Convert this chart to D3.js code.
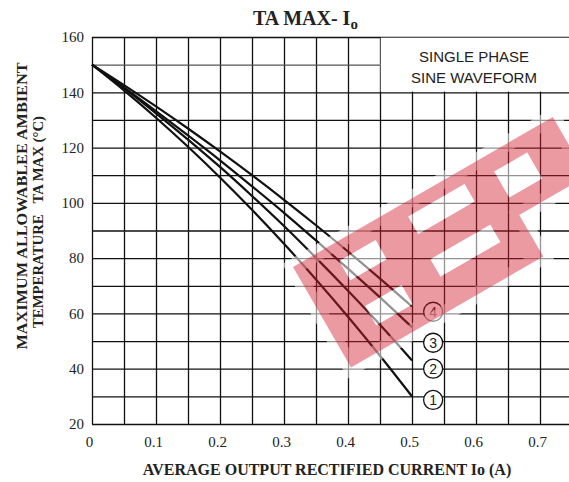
<!DOCTYPE html>
<html>
<head>
<meta charset="utf-8">
<script src="https://cdn.jsdelivr.net/npm/d3@7"></script>
<style>
body { margin: 0; background: #fff; }
svg { display: block; }
.grid line { stroke: #111; stroke-width: 1.3; }
.grid path { display: none; }
.ticks path, .ticks line { display: none; }
.ticks text { font-family: "Liberation Serif", "Times New Roman", serif; font-size: 15px; fill: #222; }
.curve { fill: none; stroke: #111; stroke-width: 2.2; }
.serif-bold { font-family: "Liberation Serif", "Times New Roman", serif; font-weight: bold; fill: #222; }
</style>
</head>
<body>
<script>
var width = 569, height = 482;

// average output current (A) where the curves were read
var currents = [0, 0.05, 0.1, 0.15, 0.2, 0.25, 0.3, 0.35, 0.4, 0.45, 0.5];
// max ambient temperature (C) per curve
var curve1 = [150, 140.7, 130.8, 120.3, 109.2, 97.5, 85.2, 72.3, 58.8, 44.7, 30];
var curve2 = [150, 141.5, 132.4, 122.9, 113, 102.5, 91.6, 80.1, 68.2, 55.9, 43];
var curve3 = [150, 141.8, 133.2, 124.4, 115.4, 106, 96.4, 86.4, 76.2, 65.8, 55];
var curve4 = [150, 142.6, 134.9, 126.9, 118.6, 110, 101.1, 91.9, 82.4, 72.6, 62.5];
var curveNames = ["1", "2", "3", "4"];
// where the numbered circles sit (A, C)
var labelCurrent = 0.533;
var labelTemps = [28.7, 40, 49.4, 60.6];

var xTicks = [0, 0.1, 0.2, 0.3, 0.4, 0.5, 0.6, 0.7];
var xTickLabels = ["0", "0.1", "0.2", "0.3", "0.4", "0.5", "0.6", "0.7"];
var yTicks = [20, 40, 60, 80, 100, 120, 140, 160];
var gridX = d3.range(0, 0.751, 0.05);
var gridY = d3.range(20, 161, 10);

var x = d3.scaleLinear().domain([0, 0.75]).range([92, 572]);
var y = d3.scaleLinear().domain([20, 160]).range([424, 37]);

var svg = d3.select("body").append("svg")
    .attr("width", width)
    .attr("height", height);

// grid
svg.append("g")
    .attr("class", "grid")
    .attr("transform", "translate(0," + y(20) + ")")
    .call(d3.axisBottom(x).tickValues(gridX).tickSize(-(y(20) - y(160))).tickFormat(""));
svg.append("g")
    .attr("class", "grid")
    .attr("transform", "translate(" + x(0) + ",0)")
    .call(d3.axisLeft(y).tickValues(gridY).tickSize(-(x(0.75) - x(0))).tickFormat(""))
    .selectAll("line")
    .filter(d => d === 150)
    .style("stroke", "#555");

// blank box for the waveform note
svg.append("rect")
    .attr("x", x(0.45) + 0.7)
    .attr("y", y(160) + 0.7)
    .attr("width", width - x(0.45))
    .attr("height", y(140) - y(160) - 1.4)
    .attr("fill", "#fff");
svg.append("g")
    .selectAll("text")
    .data(["SINGLE PHASE", "SINE WAVEFORM"])
    .enter()
    .append("text")
    .attr("x", 474)
    .attr("y", (d, i) => 62 + i * 21)
    .attr("text-anchor", "middle")
    .style("font-family", "'Liberation Sans', Arial, sans-serif")
    .style("font-size", "15px")
    .style("fill", "#222")
    .text(d => d);

// curves
var series = [curve1, curve2, curve3, curve4];
var line = d3.line()
    .curve(d3.curveMonotoneX)
    .x((d, i) => x(currents[i]))
    .y(d => y(d));
svg.append("g")
    .selectAll("path.curve")
    .data(series)
    .enter()
    .append("path")
    .attr("class", "curve")
    .attr("d", line);

// numbered circles
var marks = svg.append("g")
    .selectAll("g")
    .data(curveNames)
    .enter()
    .append("g")
    .attr("transform", (d, i) => "translate(" + x(labelCurrent) + "," + y(labelTemps[i]) + ")");
marks.append("circle")
    .attr("r", 9.5)
    .attr("fill", "#fff")
    .attr("stroke", "#111")
    .attr("stroke-width", 1.3);
marks.append("text")
    .attr("text-anchor", "middle")
    .attr("dy", "0.36em")
    .style("font-family", "'Liberation Sans', Arial, sans-serif")
    .style("font-size", "14px")
    .style("fill", "#222")
    .text(d => d);

// tick labels
svg.append("g")
    .attr("class", "ticks")
    .attr("transform", "translate(" + x(0) + ",0)")
    .call(d3.axisLeft(y).tickValues(yTicks).tickSize(0).tickPadding(8));
svg.append("g")
    .attr("class", "ticks")
    .attr("transform", "translate(-3," + y(20) + ")")
    .call(d3.axisBottom(x).tickValues(xTicks).tickSize(0).tickPadding(12)
	  .tickFormat((d, i) => xTickLabels[i]));

// titles
var title = svg.append("text")
    .attr("class", "serif-bold")
    .attr("x", 253)
    .attr("y", 25)
    .style("font-size", "20px");
title.append("tspan").text("TA MAX- I");
title.append("tspan").attr("dy", 4).style("font-size", "15px").text("o");

svg.append("text")
    .attr("class", "serif-bold")
    .attr("x", 327)
    .attr("y", 475)
    .attr("text-anchor", "middle")
    .style("font-size", "16px")
    .text("AVERAGE OUTPUT RECTIFIED CURRENT Io (A)");

var yTitle = [
    {text: "MAXIMUM ALLOWABLEE AMBIENT", x: 27, y: 206, len: 287},
    {text: "TEMPERATURE   TA MAX (\u00B0C)", x: 43, y: 222, len: 212}
];
svg.append("g")
    .selectAll("text")
    .data(yTitle)
    .enter()
    .append("text")
    .attr("class", "serif-bold")
    .attr("transform", d => "translate(" + d.x + "," + d.y + ") rotate(-90)")
    .attr("text-anchor", "middle")
    .attr("textLength", d => d.len)
    .attr("lengthAdjust", "spacingAndGlyphs")
    .style("font-size", "15px")
    .style("white-space", "pre")
    .text(d => d.text);

// watermark on top
var wm = svg.append("g")
    .attr("transform", "translate(293,267) rotate(-30)");
var outline = "M0,0 L300,0 L300,68 L222,68 L222,116 L0,116 Z";
var holes = [[43, 18, 42, 22], [43, 70, 42, 22], [125, 14, 65, 20], [123, 62, 69, 20], [222, 18, 38, 30]];
wm.append("path")
    .attr("d", outline)
    .attr("fill", "none")
    .attr("stroke", "#fff")
    .attr("stroke-opacity", 0.55)
    .attr("stroke-width", 16);
wm.append("path")
    .attr("d", outline + holes.map(h => "M" + h[0] + "," + h[1] + "h" + h[2] + "v" + h[3] + "h" + (-h[2]) + "Z").join(""))
    .attr("fill-rule", "evenodd")
    .attr("fill", "#d42030")
    .attr("fill-opacity", 0.45);
wm.selectAll("rect.hole")
    .data(holes)
    .enter()
    .append("rect")
    .attr("class", "hole")
    .attr("x", d => d[0])
    .attr("y", d => d[1])
    .attr("width", d => d[2])
    .attr("height", d => d[3])
    .attr("fill", "#fff")
    .attr("fill-opacity", 0.55);
</script>
</body>
</html>
